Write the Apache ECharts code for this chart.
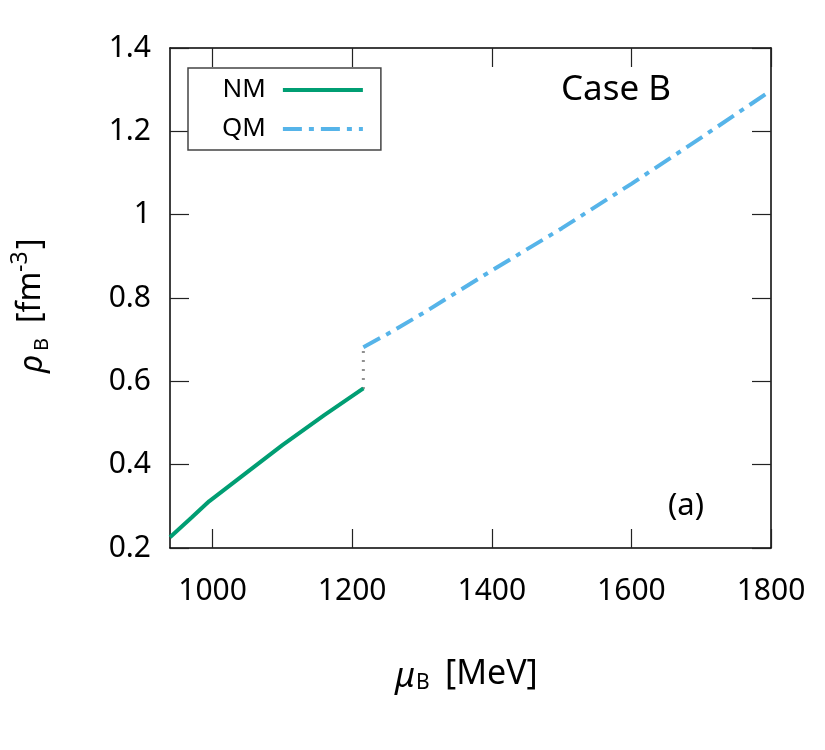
<!DOCTYPE html>
<html>
<head>
<meta charset="utf-8">
<script src="https://cdn.jsdelivr.net/npm/echarts@6/dist/echarts.min.js"></script>
<style>
  html, body { margin: 0; padding: 0; background: #fff; }
  #main { width: 825px; height: 750px; }
</style>
</head>
<body>
<div id="main"></div>
<script>
// values
var nmMu  = [939, 970, 995, 1044, 1100, 1160, 1216];
var nmRho = [0.226, 0.273, 0.312, 0.375, 0.447, 0.519, 0.583];
var qmMu  = [1216, 1250, 1300, 1400, 1500, 1600, 1700, 1800];
var qmRho = [0.682, 0.713, 0.762, 0.866, 0.967, 1.074, 1.185, 1.298];
var jumpMu  = [1216, 1216];
var jumpRho = [0.583, 0.682];
var xTicks = [1000, 1200, 1400, 1600, 1800];
var yTicks = [0.2, 0.4, 0.6, 0.8, 1, 1.2, 1.4];

function pairs(xs, ys) {
    return xs.map(function (x, i) { return [x, ys[i]]; });
}

var font = 'Noto Sans';
var myChart = echarts.init(document.getElementById('main'));

var axisLine = { show: true, lineStyle: { color: '#000', width: 1.5 } };
var tickStyle = { color: '#222', width: 1.2 };
var plain = function (v) { return String(v); };

option = {
    backgroundColor: '#fff',
    animation: false,
    grid: { left: 170, right: 54, top: 48, bottom: 202 },
    legend: {
        data: ['NM', 'QM'],
        orient: 'vertical',
        align: 'right',
        left: 188,
        top: 68,
        padding: [9, 16, 8, 34],
        itemGap: 13,
        itemWidth: 80,
        itemHeight: 12,
        borderColor: '#444',
        borderWidth: 1.5,
        backgroundColor: '#fff',
        itemStyle: { opacity: 0 },
        lineStyle: { width: 4 },
        textStyle: { fontFamily: font, fontSize: 26, color: '#000', padding: [0, 12, 0, 0] }
    },
    xAxis: [{
        type: 'value',
        min: 939,
        max: 1800,
        axisLine: axisLine,
        axisTick: { show: true, inside: true, length: 19, lineStyle: tickStyle, customValues: xTicks },
        axisLabel: { margin: 28, fontFamily: font, fontSize: 30, color: '#000', customValues: xTicks, formatter: plain },
        splitLine: { show: false }
    }, {
        type: 'value',
        position: 'top',
        min: 939,
        max: 1800,
        axisLine: axisLine,
        axisTick: { show: true, inside: true, length: 19, lineStyle: tickStyle, customValues: xTicks },
        axisLabel: { show: false },
        splitLine: { show: false }
    }],
    yAxis: [{
        type: 'value',
        min: 0.2,
        max: 1.4,
        axisLine: axisLine,
        axisTick: { show: true, inside: true, length: 19, lineStyle: tickStyle, customValues: yTicks },
        axisLabel: { margin: 19, fontFamily: font, fontSize: 30, color: '#000', customValues: yTicks, formatter: plain },
        splitLine: { show: false }
    }, {
        type: 'value',
        position: 'right',
        min: 0.2,
        max: 1.4,
        axisLine: axisLine,
        axisTick: { show: true, inside: true, length: 19, lineStyle: tickStyle, customValues: yTicks },
        axisLabel: { show: false },
        splitLine: { show: false }
    }],
    series: [{
        name: 'NM',
        type: 'line',
        symbol: 'none',
        data: pairs(nmMu, nmRho),
        lineStyle: { color: '#009e73', width: 4 },
        itemStyle: { color: '#009e73' },
        z: 3
    }, {
        name: 'QM',
        type: 'line',
        symbol: 'none',
        data: pairs(qmMu, qmRho),
        lineStyle: { color: '#56b4e9', width: 4, type: [19, 7, 5, 7], cap: 'butt' },
        itemStyle: { color: '#56b4e9' },
        z: 3
    }, {
        name: 'jump',
        type: 'line',
        symbol: 'none',
        data: pairs(jumpMu, jumpRho),
        lineStyle: { color: '#222', width: 3, type: [1, 8] },
        z: 2
    }],
    graphic: [{
        type: 'text',
        left: 561,
        top: 73,
        style: { text: 'Case B', fontFamily: font, fontSize: 35, fill: '#000' }
    }, {
        type: 'text',
        left: 668,
        top: 491,
        style: { text: '(a)', fontFamily: font, fontSize: 31, fill: '#000' }
    }, {
        // x axis title: mu_B [MeV]
        type: 'group',
        children: [{
            type: 'text', x: 395, y: 677,
            style: { text: 'μ', fontFamily: font, fontStyle: 'italic', fontSize: 34, fill: '#000', verticalAlign: 'middle' }
        }, {
            type: 'text', x: 416, y: 683,
            style: { text: 'B', fontFamily: font, fontSize: 21, fill: '#000', verticalAlign: 'middle' }
        }, {
            type: 'text', x: 445, y: 674,
            style: { text: '[MeV]', fontFamily: font, fontSize: 34, fill: '#000', verticalAlign: 'middle' }
        }]
    }, {
        // y axis title: rho_B [fm^-3], rotated
        type: 'group',
        x: 43,
        y: 373,
        rotation: Math.PI / 2,
        children: [{
            type: 'text', x: 0, y: -10,
            style: { text: 'ρ', fontFamily: font, fontStyle: 'italic', fontSize: 33, fill: '#000', verticalAlign: 'middle' }
        }, {
            type: 'text', x: 22, y: -1,
            style: { text: 'B', fontFamily: font, fontSize: 20, fill: '#000', verticalAlign: 'middle' }
        }, {
            type: 'text', x: 50, y: -12,
            style: { text: '[fm', fontFamily: font, fontSize: 32, fill: '#000', verticalAlign: 'middle' }
        }, {
            type: 'text', x: 101, y: -23,
            style: { text: '-3', fontFamily: font, fontSize: 23, fill: '#000', verticalAlign: 'middle' }
        }, {
            type: 'text', x: 124, y: -12,
            style: { text: ']', fontFamily: font, fontSize: 32, fill: '#000', verticalAlign: 'middle' }
        }]
    }]
};

myChart.setOption(option);
</script>
</body>
</html>
